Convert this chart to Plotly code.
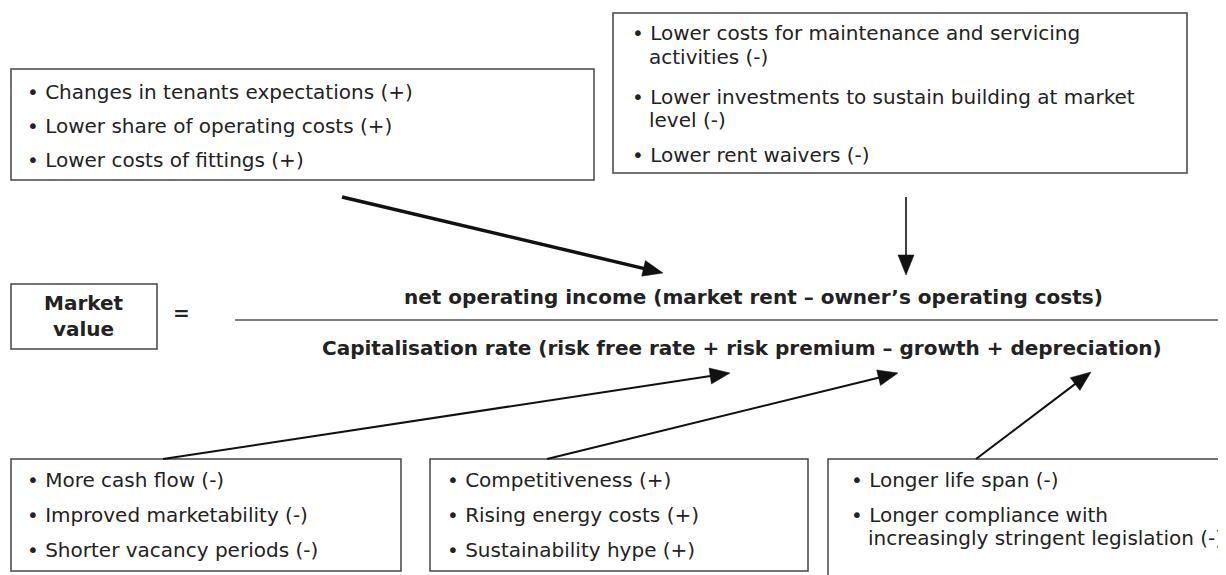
import numpy as np
import plotly.graph_objects as go

W, H = 1226, 575
OFF = 8  # page body margin
FONT = "DejaVu Sans"
FS = 20
TXT = "#222222"
BORDER = "#444444"

# ---- content (text data) ----
box_top_left = ["• Changes in tenants expectations (+)",
                "• Lower share of operating costs (+)",
                "• Lower costs of fittings (+)"]
box_top_right = [("• Lower costs for maintenance and servicing", 0),
                 ("activities (-)", 1),
                 ("• Lower investments to sustain building at market", 0),
                 ("level (-)", 1),
                 ("• Lower rent waivers (-)", 0)]
box_bot_left = ["• More cash flow (-)",
                "• Improved marketability (-)",
                "• Shorter vacancy periods (-)"]
box_bot_mid = ["• Competitiveness (+)",
               "• Rising energy costs (+)",
               "• Sustainability hype (+)"]
box_bot_right = [("• Longer life span (-)", 0),
                 ("• Longer compliance with", 0),
                 ("increasingly stringent legislation (-)", 1)]
numerator = "net operating income (market rent – owner’s operating costs)"
denominator = "Capitalisation rate (risk free rate + risk premium – growth + depreciation)"
lhs = "Market<br>value"

# ---- layout geometry (pixels) ----
rects = [(11, 69, 594, 180), (613, 13, 1187, 173), (11, 284, 157, 349),
         (11, 459, 401, 571), (430, 459, 808, 571), (828, 459, 1240, 590)]
arrows = [  # tail, tip, line width
    ((342, 197), (663, 273), 3.5),
    ((906, 197), (906, 275), 1.6),
    ((163, 459), (730, 373), 2.0),
    ((547, 459), (898, 373), 2.0),
    ((976, 459), (1091, 372), 2.0),
]

fig = go.Figure()
shapes = []
for x0, y0, x1, y1 in rects:
    shapes.append(dict(type="rect", x0=x0, y0=y0, x1=x1, y1=y1, xref="x", yref="y",
                       line=dict(color=BORDER, width=1.5), fillcolor="rgba(0,0,0,0)"))
shapes.append(dict(type="line", x0=235, y0=320, x1=1230, y1=320, xref="x", yref="y",
                   line=dict(color="#555555", width=1.5)))

for (tx, ty), (hx, hy), lw in arrows:
    tail = np.array([tx, ty], float)
    tip = np.array([hx, hy], float)
    d = tip - tail
    u = d / np.linalg.norm(d)
    n = np.array([-u[1], u[0]])
    hl, hw = 20.0, 8.0
    base = tip - u * hl
    shapes.append(dict(type="line", x0=tail[0], y0=tail[1], x1=base[0] + u[0] * 2, y1=base[1] + u[1] * 2,
                       xref="x", yref="y", line=dict(color="#111111", width=lw)))
    p1 = base + n * hw
    p2 = base - n * hw
    path = f"M {tip[0]},{tip[1]} L {p1[0]},{p1[1]} L {p2[0]},{p2[1]} Z"
    shapes.append(dict(type="path", path=path, xref="x", yref="y",
                       fillcolor="#111111", line=dict(color="#111111", width=0.5)))

ann = []


def add(text, x, y, size=FS, bold=False, xanchor="left"):
    t = f"<b>{text}</b>" if bold else text
    ann.append(dict(text=t, x=x, y=y, xref="x", yref="y", showarrow=False,
                    xanchor=xanchor, yanchor="middle",
                    font=dict(family=FONT, size=size, color=TXT)))


IND = 17
for t, y in zip(box_top_left, [92, 126, 160]):
    add(t, 25, y)
for (t, ind), y in zip(box_top_right, [33, 57, 97, 120, 155]):
    add(t, 630 + (IND if ind else 0), y)
for t, y in zip(box_bot_left, [480, 515, 550]):
    add(t, 25, y)
for t, y in zip(box_bot_mid, [480, 515, 550]):
    add(t, 445, y)
for (t, ind), y in zip(box_bot_right, [480, 515, 538]):
    add(t, 849 + (IND if ind else 0), y)

add(numerator, 753, 297, bold=True, xanchor="center")
add(denominator, 742, 348, bold=True, xanchor="center")
add("=", 181, 313, bold=True, xanchor="center")
ann.append(dict(text=f"<b>{lhs}</b>", x=84, y=316, xref="x", yref="y", showarrow=False,
                xanchor="center", yanchor="middle", align="center",
                font=dict(family=FONT, size=FS, color=TXT)))

fig.update_layout(
    width=W - OFF, height=H - OFF, margin=dict(l=0, r=0, t=0, b=0),
    paper_bgcolor="white", plot_bgcolor="white",
    xaxis=dict(range=[OFF, W], visible=False, fixedrange=True),
    yaxis=dict(range=[H, OFF], visible=False, fixedrange=True),
    shapes=shapes, annotations=ann, showlegend=False,
)
fig.write_html("out.html")
